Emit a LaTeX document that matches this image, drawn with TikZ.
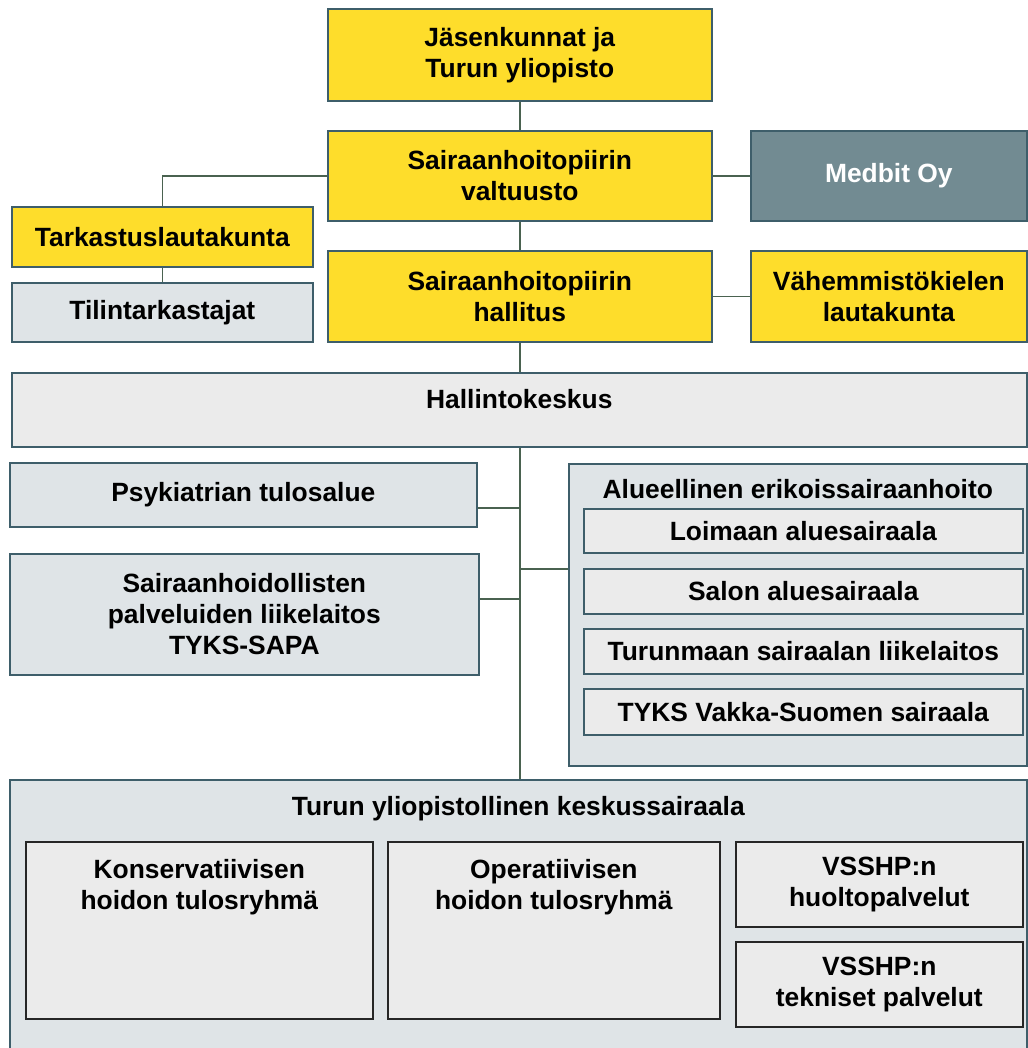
\documentclass[tikz,border=0pt]{standalone}
\usepackage{fontspec}
\setmainfont{Liberation Sans}
\definecolor{vsyellow}{RGB}{254,221,43}
\definecolor{boxline}{RGB}{62,94,106}
\definecolor{medbitgrey}{RGB}{114,139,146}
\definecolor{paleblue}{RGB}{223,228,231}
\definecolor{palegrey}{RGB}{235,235,235}
\definecolor{linkgreen}{RGB}{74,98,80}

\begin{document}
\begin{tikzpicture}[x=1pt,y=-1pt,
  every node/.style={font=\bfseries\fontsize{26.4}{31}\selectfont,inner sep=0pt,align=center},
  orgbox/.style={draw=boxline,line width=1.6pt,anchor=north west},
  wh/.style 2 args={minimum width=#1,minimum height=#2},
  yelbox/.style={orgbox,fill=vsyellow},
  bluebox/.style={orgbox,fill=paleblue},
  greybox/.style={orgbox,fill=palegrey},
  unitbox/.style={orgbox,draw=black!85,fill=palegrey},
  conn/.style={draw=linkgreen,line width=1.6pt}]
  \useasboundingbox[fill=white] (0,0) rectangle (1027,1048);
  % top of the organisation
  \node[yelbox,wh={384pt}{92pt}] (jasen) at (327,8) {Jäsenkunnat ja\\Turun yliopisto};
  \node[yelbox,wh={384pt}{90pt}] (valt) at (327,130) {Sairaanhoitopiirin\\valtuusto};
  \node[orgbox,fill=medbitgrey,text=white,wh={276pt}{90pt}] (medbit) at (750,130) {Medbit Oy};
  \node[yelbox,wh={301pt}{60pt}] (tarkas) at (11,206) {Tarkastuslautakunta};
  \node[bluebox,wh={301pt}{59pt}] (tilin) at (11,282) {Tilintarkastajat};
  \node[yelbox,wh={384pt}{91pt}] (hall) at (327,250) {Sairaanhoitopiirin\\hallitus};
  \node[yelbox,wh={276pt}{91pt}] (vahem) at (750,250) {Vähemmistökielen\\lautakunta};
  \node[greybox,wh={1015pt}{74pt},text height=19pt,text depth=22pt] (hallk) at (11,372) {Hallintokeskus};
  % tulosalueet ja liikelaitokset
  \node[bluebox,wh={467pt}{64pt}] (psyk) at (9,462) {Psykiatrian tulosalue};
  \node[bluebox,wh={469pt}{121pt}] (sapa) at (9,553) {Sairaanhoidollisten\\palveluiden liikelaitos\\TYKS-SAPA};
  \node[bluebox,wh={458pt}{302pt}] (alue) at (568,463) {};
  \node[anchor=north] (aluetitle) at ([yshift=-16.5pt]alue.north) {Alueellinen erikoissairaanhoito};
  \node[greybox,wh={439pt}{44pt}] (loim) at (583,508) {Loimaan aluesairaala};
  \node[greybox,wh={439pt}{45pt}] (salo) at (583,568) {Salon aluesairaala};
  \node[greybox,wh={439pt}{45pt}] (turm) at (583,628) {Turunmaan sairaalan liikelaitos};
  \node[greybox,wh={439pt}{46pt}] (vakka) at (583,688) {TYKS Vakka-Suomen sairaala};
  % TYKS
  \node[bluebox,wh={1017pt}{280pt}] (tyks) at (9,779) {};
  \node[anchor=north] (tykstitle) at ([yshift=-17.5pt]tyks.north) {Turun yliopistollinen keskussairaala};
  \node[unitbox,wh={347pt}{177pt}] (kons) at (25,841) {};
  \node[anchor=north] at ([yshift=-18.5pt]kons.north) {Konservatiivisen\\hoidon tulosryhmä};
  \node[unitbox,wh={332pt}{177pt}] (oper) at (387,841) {};
  \node[anchor=north] at ([yshift=-18.5pt]oper.north) {Operatiivisen\\hoidon tulosryhmä};
  \node[unitbox,wh={287pt}{85pt}] (huolto) at (735,841) {VSSHP:n\\huoltopalvelut};
  \node[unitbox,wh={287pt}{85pt}] (tekn) at (735,941) {VSSHP:n\\tekniset palvelut};
  % connectors
  \draw[conn] (jasen) -- (valt);
  \draw[conn] (valt) -- (hall);
  \draw[conn] (valt) -- (medbit);
  \draw[conn] (valt.west) -| (tarkas.north);
  \draw[conn] (tarkas.south) -- (tarkas.south |- tilin.north);
  \draw[conn] (hall) -- (vahem);
  \draw[conn] (hall.south) -- (hall.south |- hallk.north);
  \draw[conn] (hall.south |- hallk.south) -- (hall.south |- tyks.north);
  \draw[conn] ([yshift=-13pt]psyk.east) -- ([yshift=-13pt]psyk.east -| hall.south);
  \draw[conn] ([yshift=15.5pt]sapa.east) -- ([yshift=15.5pt]sapa.east -| hall.south);
  \draw[conn] ([yshift=46pt]alue.west) -- ([yshift=46pt]alue.west -| hall.south);
\end{tikzpicture}
\end{document}
